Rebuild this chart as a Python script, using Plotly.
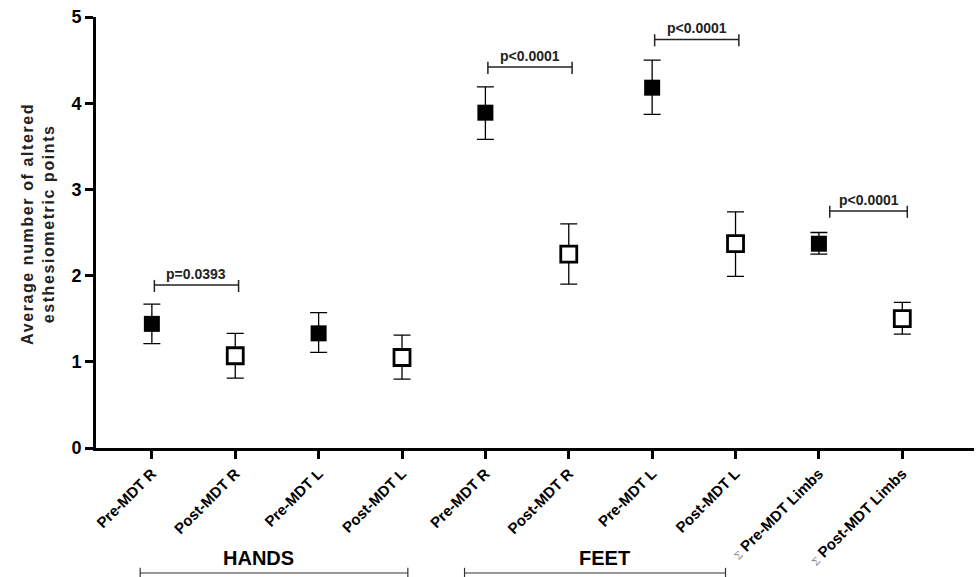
import plotly.graph_objects as go

categories = ["Pre-MDT R", "Post-MDT R", "Pre-MDT L", "Post-MDT L",
              "Pre-MDT R", "Post-MDT R", "Pre-MDT L", "Post-MDT L",
              "Σ Pre-MDT Limbs", "Σ Post-MDT Limbs"]
means = [1.44, 1.07, 1.33, 1.05, 3.89, 2.25, 4.18, 2.37, 2.37, 1.50]
err_plus = [0.23, 0.26, 0.24, 0.26, 0.30, 0.35, 0.32, 0.37, 0.13, 0.19]
err_minus = [0.23, 0.26, 0.22, 0.25, 0.31, 0.35, 0.31, 0.38, 0.12, 0.18]
is_pre = [True, False, True, False, True, False, True, False, True, False]

# comparisons: (from index, to index, bracket level, label)
comparisons = [(0, 1, 1.89, "p=0.0393"),
               (4, 5, 4.42, "p<0.0001"),
               (6, 7, 4.74, "p<0.0001"),
               (8, 9, 2.75, "p<0.0001")]
# groups: (label, bracket start, bracket end, label centre) in category units
groups = [("HANDS", -0.14, 3.07, 1.28), ("FEET", 3.75, 6.88, 5.43)]

FONT = "Liberation Sans, Arial, sans-serif"

x = list(range(len(categories)))
fig = go.Figure()
for pre in (True, False):
    idx = [i for i in x if is_pre[i] == pre]
    fig.add_trace(go.Scatter(
        x=idx, y=[means[i] for i in idx], mode="markers",
        error_y=dict(type="data", symmetric=False,
                     array=[err_plus[i] for i in idx],
                     arrayminus=[err_minus[i] for i in idx],
                     color="black", thickness=1.3, width=8.5),
        marker=dict(symbol="square", size=16,
                    color="black" if pre else "white",
                    line=dict(color="black", width=0 if pre else 2.8)),
        showlegend=False, hoverinfo="skip"))

ticktext = []
for c in categories:
    if c.startswith("Σ"):
        ticktext.append('<span style="font-family:DejaVu Serif;font-weight:normal;color:#888;font-size:10px">Σ</span> ' + c[2:])
    else:
        ticktext.append(c)

shapes = []
annotations = []
for a, b, lvl, lab in comparisons:
    x0, x1 = a + 0.03, b + 0.04
    if a == 8:
        x0, x1 = a + 0.13, b + 0.06
    shapes.append(dict(type="line", xref="x", yref="y", x0=x0, x1=x1, y0=lvl, y1=lvl,
                       line=dict(color="#222", width=1.5)))
    for xx in (x0, x1):
        shapes.append(dict(type="line", xref="x", yref="y", x0=xx, x1=xx, y0=lvl - 0.08, y1=lvl + 0.06,
                           line=dict(color="#222", width=1.5)))
    annotations.append(dict(x=(x0 + x1) / 2, y=lvl, xref="x", yref="y", text=lab,
                            showarrow=False, yanchor="bottom", yshift=1,
                            font=dict(family=FONT, size=14, color="#222", weight="bold")))

# group brackets below the axis (paper coordinates)
L, R, T, B, W, H = 96, 3, 17, 129, 977, 577
ph = H - T - B
xr = (-0.67, 9.86)
def to_paper_x(v):
    return (v - xr[0]) / (xr[1] - xr[0])
for name, a, b, c in groups:
    x0 = to_paper_x(a)
    x1 = to_paper_x(b)
    yy = (448 - 573) / ph
    shapes.append(dict(type="line", xref="paper", yref="paper", x0=x0, x1=x1, y0=yy, y1=yy,
                       line=dict(color="#333", width=1.2)))
    for xx in (x0, x1):
        shapes.append(dict(type="line", xref="paper", yref="paper", x0=xx, x1=xx, y0=yy - 0.012, y1=yy + 0.012,
                           line=dict(color="#333", width=1.2)))
    annotations.append(dict(x=to_paper_x(c), y=yy, xref="paper", yref="paper",
                            text=name, showarrow=False, xanchor="center", yanchor="bottom", yshift=2,
                            font=dict(family=FONT, size=20, color="black", weight="bold")))

# y-axis title (two lines, letter-spaced)
annotations.append(dict(x=-0.066, y=0.52, xref="paper", yref="paper", textangle=-90,
                        text='<span style="letter-spacing:1.6px">Average number of altered<br>esthesiometric points</span>',
                        showarrow=False, xanchor="center", yanchor="middle",
                        font=dict(family=FONT, size=16, color="#222", weight="bold")))

fig.update_layout(
    width=W, height=H,
    margin=dict(l=L, r=R, t=T, b=B),
    plot_bgcolor="white", paper_bgcolor="white",
    shapes=shapes, annotations=annotations,
    xaxis=dict(range=list(xr), tickvals=x, ticktext=ticktext, tickangle=-45, automargin=False,
               showgrid=False, zeroline=False, showline=True, linecolor="black", linewidth=3,
               ticks="outside", ticklen=8, tickwidth=3, tickcolor="black",
               tickfont=dict(family=FONT, size=15, color="black", weight="bold")),
    yaxis=dict(range=[0, 5], tickvals=[0, 1, 2, 3, 4, 5], automargin=False,
               showgrid=False, zeroline=False, showline=True, linecolor="black", linewidth=3,
               ticks="outside", ticklen=8, tickwidth=3, tickcolor="black",
               tickfont=dict(family=FONT, size=18, color="black", weight="bold")),
)

fig.write_html("out.html", config={"displayModeBar": False},
               post_script="document.body.style.margin='0';document.body.style.overflow='hidden';")
